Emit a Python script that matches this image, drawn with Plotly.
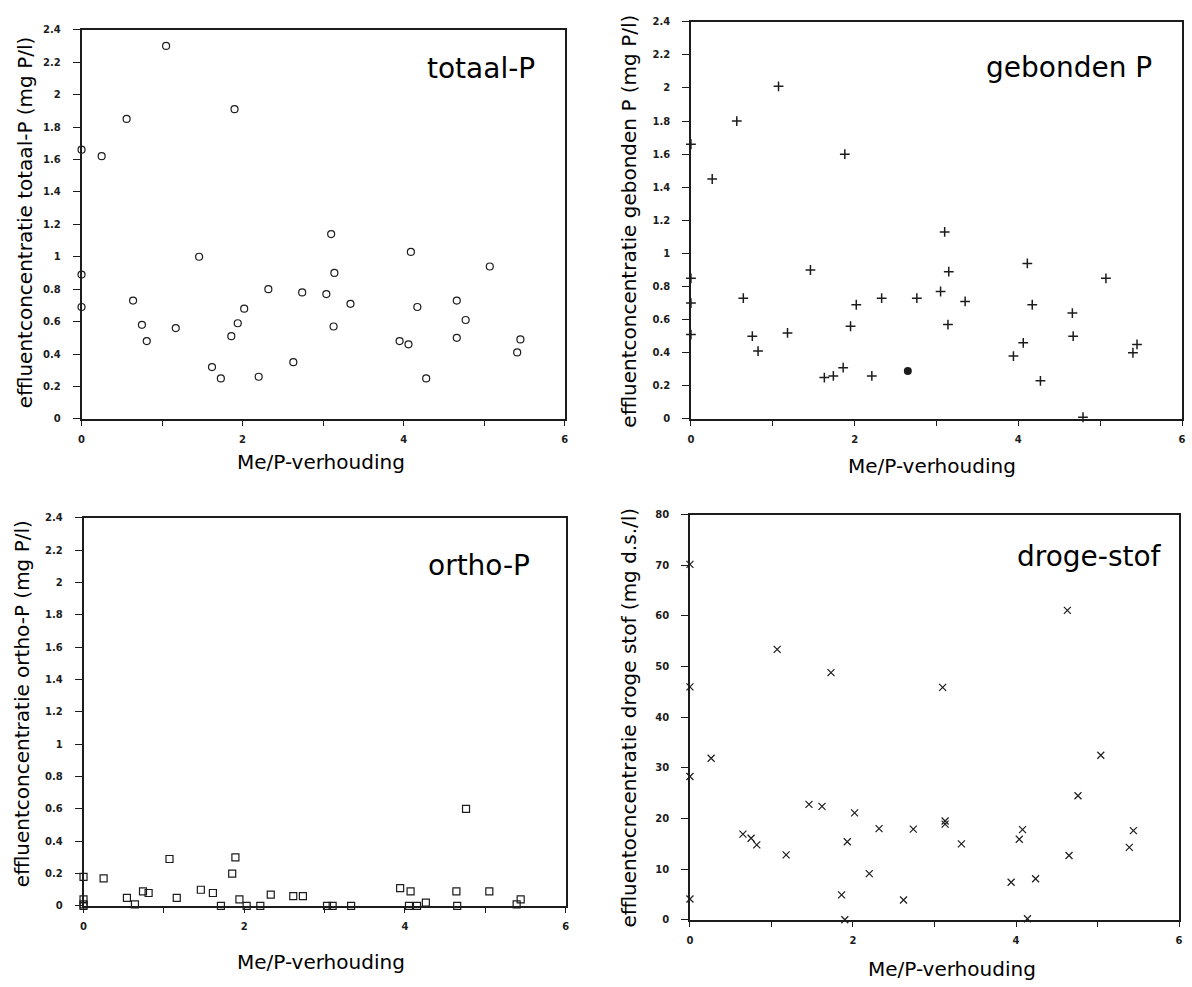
import plotly.graph_objects as go

# Me/P-verhouding (x) and effluent concentrations (y) per parameter
totaal_x = [0, 0, 0, 0.25, 0.56, 1.05, 0.64, 0.75, 0.81, 1.17, 1.46, 1.62, 1.73, 1.90, 1.86, 1.94,
            2.02, 2.32, 2.20, 2.63, 2.74, 3.04, 3.10, 3.14, 3.34, 3.13, 4.09, 4.17, 3.95, 4.06,
            4.28, 4.66, 4.77, 4.66, 5.07, 5.45, 5.41]
totaal_y = [1.66, 0.89, 0.69, 1.62, 1.85, 2.30, 0.73, 0.58, 0.48, 0.56, 1.00, 0.32, 0.25, 1.91,
            0.51, 0.59, 0.68, 0.80, 0.26, 0.35, 0.78, 0.77, 1.14, 0.90, 0.71, 0.57, 1.03, 0.69,
            0.48, 0.46, 0.25, 0.73, 0.61, 0.50, 0.94, 0.49, 0.41]

gebonden_x = [0, 0, 0, 0, 0.26, 0.56, 1.07, 0.64, 0.75, 0.82, 1.18, 1.46, 1.88, 1.63, 1.74, 1.86,
              1.95, 2.02, 2.33, 2.21, 2.76, 3.10, 3.15, 3.05, 3.35, 3.14, 4.11, 4.17, 4.06, 3.94,
              4.27, 4.66, 4.67, 5.07, 5.40, 5.45, 4.79]
gebonden_y = [1.66, 0.85, 0.70, 0.51, 1.45, 1.80, 2.01, 0.73, 0.50, 0.41, 0.52, 0.90, 1.60, 0.25,
              0.26, 0.31, 0.56, 0.69, 0.73, 0.26, 0.73, 1.13, 0.89, 0.77, 0.71, 0.57, 0.94, 0.69,
              0.46, 0.38, 0.23, 0.64, 0.50, 0.85, 0.40, 0.45, 0.01]
gebonden_dot_x = [2.65]
gebonden_dot_y = [0.29]

ortho_x = [0, 0, 0, 0, 0.25, 0.54, 0.64, 0.74, 0.81, 1.07, 1.16, 1.46, 1.61, 1.71, 1.89, 1.85,
           1.94, 2.03, 2.20, 2.33, 2.61, 2.73, 3.03, 3.10, 3.33, 3.94, 4.07, 4.05, 4.15, 4.26,
           4.64, 4.65, 4.76, 5.05, 5.39, 5.44]
ortho_y = [0.18, 0.04, 0.01, 0.0, 0.17, 0.05, 0.01, 0.09, 0.08, 0.29, 0.05, 0.10, 0.08, 0.0,
           0.30, 0.20, 0.04, 0.0, 0.0, 0.07, 0.06, 0.06, 0.0, 0.0, 0.0, 0.11, 0.09, 0.0, 0.0,
           0.02, 0.09, 0.0, 0.60, 0.09, 0.01, 0.04]

droog_x = [0, 0, 0, 0, 0.26, 1.07, 0.65, 0.75, 0.82, 1.18, 1.46, 1.62, 1.73, 2.02, 1.93, 1.86,
           1.90, 2.32, 2.20, 2.62, 2.74, 3.10, 3.13, 3.13, 3.33, 4.63, 5.04, 4.76, 4.08, 4.04,
           4.65, 5.44, 5.39, 3.94, 4.24, 4.14]
droog_y = [70.2, 46.0, 28.3, 4.1, 31.9, 53.4, 16.9, 16.1, 14.8, 12.8, 22.8, 22.4, 48.8, 21.1,
           15.4, 4.9, 0.0, 18.0, 9.1, 3.9, 17.9, 45.9, 19.5, 18.9, 15.0, 61.1, 32.5, 24.5, 17.8,
           15.9, 12.7, 17.6, 14.3, 7.4, 8.1, 0.2]

x_tickvals = [0, 1, 2, 3, 4, 5, 6]
x_ticktext = ["0", "", "2", "", "4", "", "6"]

panel_titles = ["totaal-P", "gebonden P", "ortho-P", "droge-stof"]
y_titles = ["effluentconcentratie totaal-P (mg P/l)",
            "effluentconcentratie gebonden P (mg P/l)",
            "effluentconcentratie ortho-P (mg P/l)",
            "effluentocncentratie droge stof (mg d.s./l)"]
x_title = "Me/P-verhouding"

W, H = 1192, 987
INK = "#1c1c1c"
FONT = "DejaVu Sans"


def px_x(p):
    return p / W


def px_y(p):
    return 1 - p / H


fig = go.Figure()

marker_line = dict(color=INK, width=1.2)
fig.add_trace(go.Scatter(x=totaal_x, y=totaal_y, mode="markers", xaxis="x", yaxis="y",
                         marker=dict(symbol="circle-open", size=7, color=INK, line=marker_line),
                         cliponaxis=False, showlegend=False))
fig.add_trace(go.Scatter(x=gebonden_x, y=gebonden_y, mode="markers", xaxis="x2", yaxis="y2",
                         marker=dict(symbol="cross-thin-open", size=7, color=INK,
                                     line=dict(color=INK, width=1.5)),
                         cliponaxis=False, showlegend=False))
fig.add_trace(go.Scatter(x=gebonden_dot_x, y=gebonden_dot_y, mode="markers", xaxis="x2", yaxis="y2",
                         marker=dict(symbol="circle", size=8, color=INK),
                         cliponaxis=False, showlegend=False))
fig.add_trace(go.Scatter(x=ortho_x, y=ortho_y, mode="markers", xaxis="x3", yaxis="y3",
                         marker=dict(symbol="square-open", size=7, color=INK, line=marker_line),
                         cliponaxis=False, showlegend=False))
fig.add_trace(go.Scatter(x=droog_x, y=droog_y, mode="markers", xaxis="x4", yaxis="y4",
                         marker=dict(symbol="x-thin-open", size=7, color=INK,
                                     line=dict(color=INK, width=1.2)),
                         cliponaxis=False, showlegend=False))

# plot areas in pixels: (left, right, top, bottom)
boxes = [(79, 565, 24, 418), (692, 1186, 16, 418), (81, 566, 518, 911), (691, 1183, 515, 925)]
y_ranges = [[0, 2.4], [0, 2.4], [0, 2.4], [0, 80]]
y_dticks = [0.2, 0.2, 0.2, 10]

tickfont = dict(family=FONT, size=10, color=INK, weight="bold")
axis_common = dict(showline=True, linecolor=INK, linewidth=1.5, mirror=True,
                   showgrid=False, zeroline=False, tickcolor=INK, tickwidth=1.2,
                   ticks="outside", tickfont=tickfont)

layout = dict(width=W, height=H, margin=dict(l=0, r=0, t=0, b=0),
              paper_bgcolor="white", plot_bgcolor="white", showlegend=False)

for i, (l, r, t, b) in enumerate(boxes):
    n = "" if i == 0 else str(i + 1)
    layout["xaxis" + n] = dict(axis_common, domain=[px_x(l), px_x(r)], range=[0, 6],
                               anchor="y" + n, tickvals=x_tickvals, ticktext=x_ticktext,
                               ticklen=5, ticklabelstandoff=5)
    layout["yaxis" + n] = dict(axis_common, domain=[px_y(b), px_y(t)], range=y_ranges[i],
                               anchor="x" + n, dtick=y_dticks[i], tick0=0,
                               ticklen=7, ticklabelstandoff=10)

fig.update_layout(**layout)

# panel titles (upper right inside each plot)
title_pos = [(537, 63), (1158, 62), (532, 566), (1168, 557)]
for txt, (xr, yc) in zip(panel_titles, title_pos):
    fig.add_annotation(text=txt, xref="paper", yref="paper", x=px_x(xr), y=px_y(yc),
                       xanchor="right", yanchor="middle", showarrow=False,
                       font=dict(family=FONT, size=28, color="black"))

# axis titles
y_title_pos = [(22, 219), (630, 218), (20, 706), (630, 720)]
for txt, (xc, yc) in zip(y_titles, y_title_pos):
    fig.add_annotation(text=txt, xref="paper", yref="paper", x=px_x(xc), y=px_y(yc),
                       xanchor="center", yanchor="middle", textangle=-90, showarrow=False,
                       font=dict(family=FONT, size=20, color="black"))

x_title_pos = [(320, 462), (934, 466), (320, 968), (955, 975)]
for xc, yc in x_title_pos:
    fig.add_annotation(text=x_title, xref="paper", yref="paper", x=px_x(xc), y=px_y(yc),
                       xanchor="center", yanchor="middle", showarrow=False,
                       font=dict(family=FONT, size=20, color="black"))

fig.write_html("out.html")
